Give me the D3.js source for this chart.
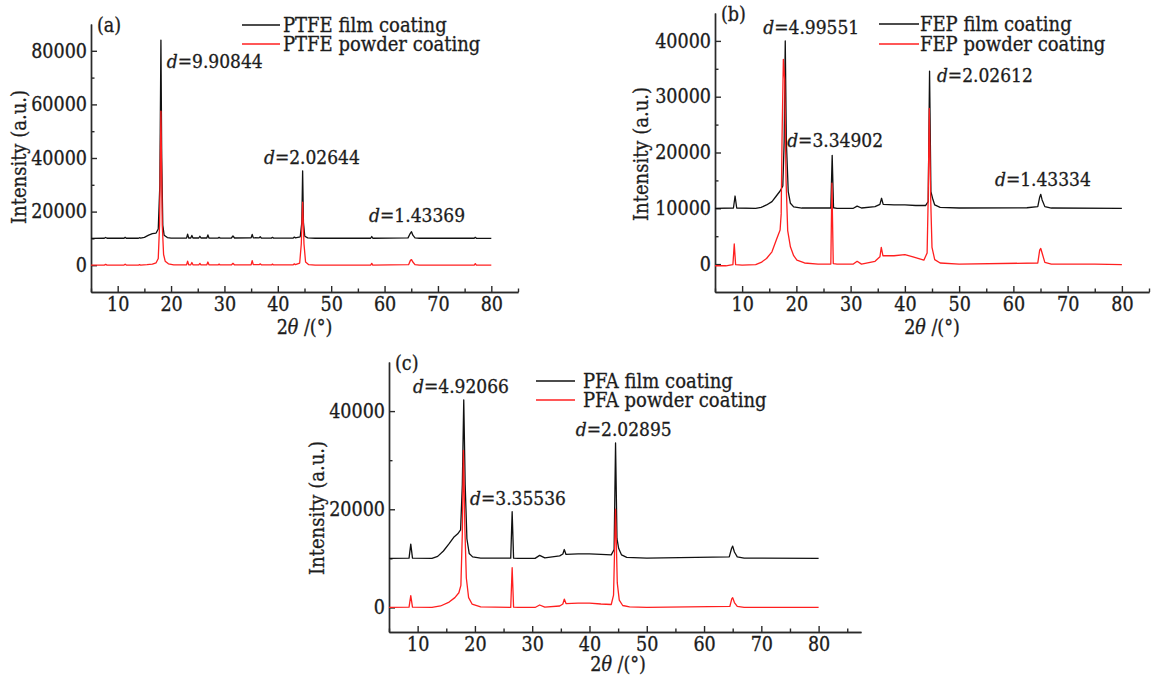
<!DOCTYPE html>
<html>
<head>
<meta charset="utf-8">
<script src="https://cdn.jsdelivr.net/npm/d3@7"></script>
<style>
  body { margin: 0; background: #fff; }
  svg { display: block; }
  svg text { font-family: "DejaVu Serif", "Liberation Serif", serif; font-stretch: condensed;
             fill: #1c1c1c; stroke: #1c1c1c; stroke-width: 0.3px; }
</style>
</head>
<body>
<svg id="chart" width="1151" height="676"></svg>
<script>
// XRD patterns, [2theta, intensity]
const ptfeFilm = [
  [5,10000],[7.5,10050],[7.75,10350],[8.0,10050],[11.2,10050],[11.4,10400],[11.6,10050],
  [13.9,10050],[14.1,10250],[14.3,10100],[15,10400],[15.8,11200],[16.5,11800],[17.2,12000],
  [17.6,13500],[17.9,30000],[18.1,84000],[18.25,40000],[18.45,15000],[18.7,11200],[19.3,10300],
  [20,10100],[22.9,10100],[23.1,11600],[23.3,10150],[23.7,10150],[23.9,11100],[24.1,10150],
  [25.2,10150],[25.4,10800],[25.6,10150],[26.7,10150],[26.9,11300],[27.1,10150],[28.8,10100],
  [29.0,10400],[29.2,10100],[31.3,10150],[31.6,10900],[31.9,10150],[35.0,10200],[35.2,11500],
  [35.4,10250],[36.5,10200],[36.7,10600],[36.9,10150],[38.8,10100],[39.0,10400],[39.2,10100],
  [42.9,10150],[43.1,10500],[43.3,10200],[44.2,10600],[44.5,16000],[44.65,35200],[44.8,16000],
  [45.05,10800],[45.6,10200],[47,10050],[57.4,10050],[57.6,10700],[57.8,10050],[64.4,10200],
  [64.8,11800],[65.05,12500],[65.3,11200],[65.7,10200],[66.5,10050],[76.8,10050],[77.0,10400],
  [77.2,10050],[80,10000]
];
const ptfePowder = [
  [5,0],[7.5,50],[7.75,300],[8.0,50],[11.2,50],[11.4,400],[11.6,50],[13.9,50],[14.1,200],
  [14.3,50],[15.5,200],[16.5,400],[17.2,900],[17.6,2500],[17.85,15000],[18.1,57500],[18.35,15000],
  [18.6,4000],[18.9,1500],[19.5,500],[20.5,150],[22.9,100],[23.1,1500],[23.3,150],[23.7,150],
  [23.9,1000],[24.1,150],[25.2,150],[25.4,700],[25.6,150],[26.7,150],[26.9,1200],[27.1,150],
  [28.8,100],[29.0,400],[29.2,100],[31.3,100],[31.6,700],[31.9,100],[35.0,150],[35.2,1700],
  [35.4,200],[36.5,200],[36.7,500],[36.9,150],[38.8,100],[39.0,400],[39.2,100],[42.9,150],
  [43.1,500],[43.3,200],[44.1,800],[44.4,8000],[44.65,23500],[44.9,8000],[45.2,1200],[45.8,200],
  [47,50],[57.4,50],[57.6,700],[57.8,50],[64.5,200],[64.85,1800],[65.05,2100],[65.3,1200],
  [65.7,200],[66.5,50],[76.8,50],[77.0,600],[77.2,50],[80,0]
];
const fepFilm = [
  [5,10000],[8.4,10050],[8.7,12200],[9.0,10050],[12.5,10000],[13.5,10150],[14.5,10600],
  [15.5,11200],[16.3,12200],[17.0,13100],[17.5,14000],[17.75,22000],[17.95,40000],[18.15,22000],
  [18.5,13000],[18.9,10900],[19.5,10250],[21,10050],[26.35,10050],[26.6,19500],[26.85,10100],
  [27.5,10000],[30.5,10000],[31.2,10400],[32,10050],[34.5,10300],[35.4,10700],[35.7,11800],
  [36.0,10700],[38,10600],[40,10600],[42,10500],[43.8,10500],[44.3,11200],[44.55,34600],
  [44.8,13000],[45.1,11800],[45.5,10600],[46.5,10150],[50,10050],[62.5,10100],[64.5,10300],
  [64.85,12000],[65.05,12500],[65.3,11500],[65.8,10300],[67,10050],[80,10000]
];
const fepPowder = [
  [5,-300],[7,-300],[8.3,-100],[8.55,3600],[8.8,-100],[10,-200],[12.5,-100],[13.5,300],
  [14.5,1000],[15.5,2200],[16.4,4600],[17.0,6100],[17.2,9000],[17.35,22000],[17.6,36700],
  [17.85,33000],[18.1,15000],[18.4,6000],[18.9,3100],[19.5,1500],[20.1,700],[21.5,200],[24,0],
  [26.35,0],[26.55,14500],[26.8,100],[27.5,0],[30.5,0],[31.2,500],[32,0],[34.5,500],[35.4,1300],
  [35.65,3000],[35.95,1500],[38,1500],[40,1700],[41.5,1300],[43.5,700],[44.1,2000],[44.3,12000],
  [44.5,27900],[44.75,12000],[45.0,3000],[45.5,800],[46.5,200],[50,0],[64.5,200],[64.85,2500],
  [65.05,2800],[65.35,1800],[65.8,300],[67,0],[75,0],[80,-100]
];
const pfaFilm = [
  [5,10000],[8.5,10050],[8.8,12900],[9.1,10050],[12.5,10000],[13.5,10400],[14.5,11500],
  [15.5,13000],[16.3,14300],[17.0,15000],[17.5,15800],[17.8,25000],[18.05,42300],[18.3,25000],
  [18.6,14000],[19.0,11000],[19.6,10300],[21,10050],[26.25,10050],[26.5,19500],[26.75,10050],
  [27.5,10000],[30.5,10000],[31.3,10600],[32.2,10100],[34.8,10500],[35.35,10900],[35.6,11800],
  [35.9,10800],[38,10900],[40,10900],[42,10800],[43.8,10700],[44.3,11800],[44.55,33500],
  [44.8,14000],[45.1,12000],[45.6,10700],[46.5,10200],[50,10050],[64.4,10300],[64.8,12000],
  [65.0,12500],[65.3,11300],[65.8,10300],[67,10050],[80,10000]
];
const pfaPowder = [
  [5,0],[8.5,50],[8.8,2400],[9.1,50],[12.5,0],[14,300],[15.5,1100],[16.5,2000],[17.2,3000],
  [17.55,4500],[17.8,15000],[18.0,32000],[18.25,16000],[18.5,6000],[18.9,2000],[19.5,700],
  [21,100],[26.25,0],[26.5,8100],[26.75,50],[27.5,0],[30.5,0],[31.3,500],[32.2,50],[34.8,300],
  [35.35,700],[35.6,1700],[35.9,800],[38,900],[40,900],[42,700],[43.8,600],[44.2,2500],
  [44.55,20000],[44.85,5000],[45.2,1500],[45.8,400],[47,100],[50,0],[64.5,200],[64.85,1800],
  [65.0,2000],[65.3,1000],[65.8,200],[67,0],[80,0]
];

// peak labels: [d value, 2theta where text starts, intensity at text middle]
const ptfeNotes = [['9.90844', 19.2, 76200], ['2.02644', 37.4, 40400], ['1.43369', 57.1, 18700]];
const fepNotes = [['4.99551', 13.9, 42500], ['2.02612', 45.9, 33900], ['3.34902', 18.3, 22200], ['1.43334', 56.6, 15250]];
const pfaNotes = [['4.92066', 9.2, 45000], ['3.35536', 19.15, 22250], ['2.02895', 37.6, 36300]];

const xMajor = [10, 20, 30, 40, 50, 60, 70, 80];
const xMinor = [5, 15, 25, 35, 45, 55, 65, 75, 85];

const panels = [
  { tag: '(a)', film: ptfeFilm, powder: ptfePowder, notes: ptfeNotes,
    names: ['PTFE film coating', 'PTFE powder coating'],
    xDomain: [5, 85], yDomain: [-10000, 90000],
    yMajor: [0, 20000, 40000, 60000, 80000], yMinor: [10000, 30000, 50000, 70000],
    left: 91, right: 518, top: 24, bottom: 292, titleGap: 42,
    legend: { x: 242, y: 25, len: 38, tx: 283, gap: 19 }, yTitle: { x: 19, y: 157 } },
  { tag: '(b)', film: fepFilm, powder: fepPowder, notes: fepNotes,
    names: ['FEP film coating', 'FEP powder coating'],
    xDomain: [5, 85], yDomain: [-5000, 45000],
    yMajor: [0, 10000, 20000, 30000, 40000], yMinor: [5000, 15000, 25000, 35000],
    left: 715, right: 1149, top: 13, bottom: 292, titleGap: 42,
    legend: { x: 879, y: 24, len: 40, tx: 920, gap: 20 }, yTitle: { x: 641, y: 154 } },
  { tag: '(c)', film: pfaFilm, powder: pfaPowder, notes: pfaNotes,
    names: ['PFA film coating', 'PFA powder coating'],
    xDomain: [5, 87.4], yDomain: [-5000, 50000],
    yMajor: [0, 20000, 40000], yMinor: [10000, 30000],
    left: 389, right: 861, top: 362, bottom: 632, titleGap: 39,
    legend: { x: 536, y: 381, len: 39, tx: 583, gap: 19 }, yTitle: { x: 317, y: 508 } }
];

const svg = d3.select('#chart');
const axisColor = '#2a2a2a';

panels.forEach((p) => {
  const x = d3.scaleLinear().domain(p.xDomain).range([p.left, p.right]);
  const y = d3.scaleLinear().domain(p.yDomain).range([p.bottom, p.top]);
  const g = svg.append('g');

  // minor ticks first, then major axes with labels
  g.append('g')
    .attr('transform', `translate(0,${p.bottom})`)
    .call(d3.axisBottom(x).tickValues(xMinor).tickSizeInner(-3.5).tickSizeOuter(0).tickFormat(''));
  g.append('g')
    .attr('transform', `translate(${p.left},0)`)
    .call(d3.axisLeft(y).tickValues(p.yMinor).tickSizeInner(-3.5).tickSizeOuter(0).tickFormat(''));

  g.append('g')
    .attr('transform', `translate(0,${p.bottom})`)
    .call(d3.axisBottom(x).tickValues(xMajor).tickSizeInner(-6).tickSizeOuter(0).tickPadding(5).tickFormat(d3.format('d')));
  g.append('g')
    .attr('transform', `translate(${p.left},0)`)
    .call(d3.axisLeft(y).tickValues(p.yMajor).tickSizeInner(-6).tickSizeOuter(0).tickPadding(4).tickFormat(d3.format('d')));

  g.selectAll('.domain, .tick line').attr('stroke', axisColor).attr('stroke-width', 1.4);
  g.selectAll('.tick text').style('font-size', '19.5px');

  // axis titles
  const xt = g.append('text')
    .attr('x', x(45))
    .attr('y', p.bottom + p.titleGap)
    .attr('text-anchor', 'middle')
    .style('font-size', '19.5px');
  xt.append('tspan').text('2');
  xt.append('tspan').attr('font-style', 'italic').text('θ');
  xt.append('tspan').text(' /(°)');

  g.append('text')
    .attr('transform', `translate(${p.yTitle.x},${p.yTitle.y}) rotate(-90)`)
    .attr('text-anchor', 'middle')
    .attr('dy', '0.35em')
    .style('font-size', '20px')
    .text('Intensity (a.u.)');

  // curves: film in black, powder drawn over in red
  const line = d3.line().x((d) => x(d[0])).y((d) => y(d[1]));
  g.append('path')
    .datum(p.film)
    .attr('d', line)
    .attr('fill', 'none')
    .attr('stroke', '#111')
    .attr('stroke-width', 1.3)
    .attr('stroke-linejoin', 'round');
  g.append('path')
    .datum(p.powder)
    .attr('d', line)
    .attr('fill', 'none')
    .attr('stroke', '#ff1f1f')
    .attr('stroke-width', 1.3)
    .attr('stroke-linejoin', 'round');

  // panel tag
  g.append('text')
    .attr('x', p.left + 6)
    .attr('y', p.top + 1)
    .attr('dy', '0.35em')
    .style('font-size', '19.5px')
    .text(p.tag);

  // legend
  const lg = p.legend;
  [['#111', p.names[0]], ['#ff1f1f', p.names[1]]].forEach(([c, name], i) => {
    const ly = lg.y + i * lg.gap;
    g.append('line')
      .attr('x1', lg.x).attr('x2', lg.x + lg.len)
      .attr('y1', ly).attr('y2', ly)
      .attr('stroke', c).attr('stroke-width', 1.3);
    g.append('text')
      .attr('x', lg.tx)
      .attr('y', ly)
      .attr('dy', '0.35em')
      .style('font-size', '20px')
      .text(name);
  });

  // d-spacing labels
  p.notes.forEach(([dv, tx, ty]) => {
    const t = g.append('text')
      .attr('x', x(tx))
      .attr('y', y(ty))
      .attr('dy', '0.35em')
      .style('font-size', '19px');
    t.append('tspan').attr('font-style', 'italic').text('d');
    t.append('tspan').text('=' + dv);
  });
});
</script>
</body>
</html>
